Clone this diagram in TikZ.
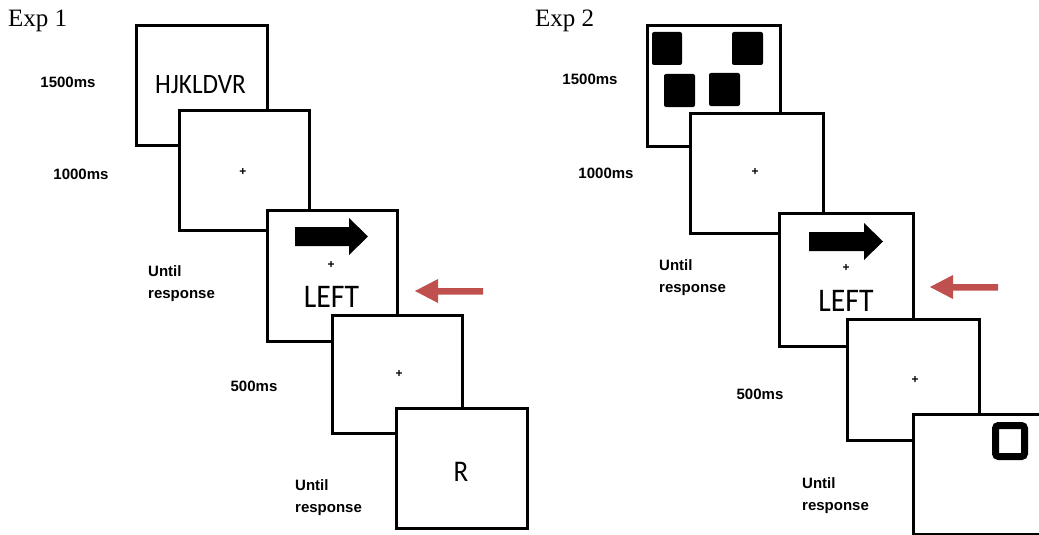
\documentclass[tikz,border=0pt]{standalone}
\usepackage{fontspec}
\setmainfont{Liberation Serif}
\newfontfamily\lblfont{Liberation Sans}
\newfontfamily\stimfont[FakeStretch=0.9]{Carlito}
\definecolor{redarrow}{RGB}{192,80,77}
\begin{document}
\begin{tikzpicture}[x=1pt,y=-1pt,
  screen/.style={draw=black, fill=white, line width=2.6pt, inner sep=0pt, anchor=north west},
  lbl/.style={font=\lblfont\bfseries\fontsize{15}{22}\selectfont, inner sep=0pt, align=left},
  explbl/.style={font=\fontsize{25}{28}\selectfont, inner sep=0pt, anchor=base west},
  stim/.style={font=\stimfont\fontsize{33}{35}\selectfont, inner sep=0pt, anchor=base},
  fix/.style={font=\lblfont\bfseries\fontsize{12}{14}\selectfont, inner sep=0pt},
  blk/.style={fill=black, rounded corners=2pt},
  redarr/.style={fill=redarrow}
]
\useasboundingbox (0,0) rectangle (1039,535);
\clip (0,0) rectangle (1039,535);

% ---------------- Exp 1 ----------------
\node[explbl] (exp1) at (8,27) {Exp 1};

\node[screen, minimum width=131pt, minimum height=120pt] (a1) at (135,24) {};
\node[stim, font=\stimfont\fontsize{28}{30}\selectfont] (a1t) at (200.5,93) {HJKLDVR};

\node[screen, minimum width=130pt, minimum height=120pt] (a2) at (178,109) {};
\node[fix] (a2f) at (243,172) {+};

\node[screen, minimum width=130pt, minimum height=131pt] (a3) at (266,209) {};
\fill (295,227) -- (349,227) -- (349,218) -- (368,236.5) -- (349,255) -- (349,246) -- (295,246) -- cycle;
\node[fix] (a3f) at (331,265) {+};
\node[stim] (a3t) at (331.5,307) {LEFT};

\node[screen, minimum width=130pt, minimum height=118pt] (a4) at (331,314) {};
\node[fix] (a4f) at (399,374) {+};

\node[screen, minimum width=131pt, minimum height=120pt] (a5) at (395,407) {};
\node[stim, font=\stimfont\fontsize{30}{32}\selectfont] (a5t) at (461,481) {R};

\fill[redarr] (415,291) -- (438,279) -- (438,288) -- (483,288) -- (483,294.5) -- (438,294.5) -- (438,303) -- cycle;

\node[lbl] (l1) at (68,82) {1500ms};
\node[lbl] (l2) at (81,174) {1000ms};
\node[lbl, anchor=north west] (l3) at (148,265.5) {Until\\response};
\node[lbl] (l4) at (254,386) {500ms};
\node[lbl, anchor=north west] (l5) at (295,479.5) {Until\\response};

% ---------------- Exp 2 ----------------
\node[explbl] (exp2) at (535,27) {Exp 2};

\node[screen, minimum width=133pt, minimum height=121pt] (b1) at (646,24) {};
\fill[blk] (652,32) rectangle (682,65);
\fill[blk] (732,32) rectangle (763,65);
\fill[blk] (664,74) rectangle (695,107);
\fill[blk] (709,73) rectangle (740,106);

\node[screen, minimum width=133pt, minimum height=120pt] (b2) at (689,112) {};
\node[fix] (b2f) at (755,172) {+};

\node[screen, minimum width=134pt, minimum height=133pt] (b3) at (778,212) {};
\fill (809,232) -- (864,232) -- (864,223) -- (883,241.5) -- (864,260) -- (864,251) -- (809,251) -- cycle;
\node[fix] (b3f) at (846,268) {+};
\node[stim] (b3t) at (846,311) {LEFT};

\node[screen, minimum width=132pt, minimum height=121pt] (b4) at (846,318) {};
\node[fix] (b4f) at (915,380) {+};

\node[screen, minimum width=160pt, minimum height=120pt] (b5) at (912,413) {};
\draw[line width=7pt, rounded corners=3pt] (995.5,425.5) rectangle (1024.5,456.5);

\fill[redarr] (930,287) -- (953,275) -- (953,284) -- (998,284) -- (998,290.5) -- (953,290.5) -- (953,299) -- cycle;

\node[lbl] (m1) at (590,79) {1500ms};
\node[lbl] (m2) at (606,173) {1000ms};
\node[lbl, anchor=north west] (m3) at (659,259.5) {Until\\response};
\node[lbl] (m4) at (760,394) {500ms};
\node[lbl, anchor=north west] (m5) at (802,477.5) {Until\\response};
\end{tikzpicture}
\end{document}
